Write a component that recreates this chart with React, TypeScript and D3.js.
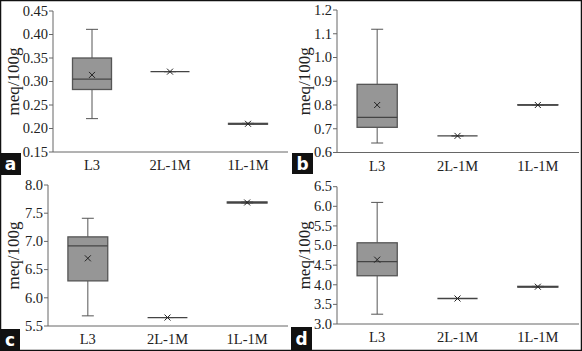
import React from "react";
import * as d3 from "d3";

const categories = ["L3", "2L-1M", "1L-1M"];
// each row: [min, q1, median, q3, max, mean]
const boxesA = [
  [0.221, 0.283, 0.305, 0.35, 0.411, 0.314],
  [0.321, 0.321, 0.321, 0.321, 0.321, 0.321],
  [0.209, 0.209, 0.21, 0.211, 0.211, 0.21],
];
const boxesB = [
  [0.64, 0.706, 0.748, 0.887, 1.119, 0.8],
  [0.67, 0.67, 0.67, 0.67, 0.67, 0.67],
  [0.8, 0.8, 0.8, 0.801, 0.801, 0.8],
];
const boxesC = [
  [5.68, 6.3, 6.92, 7.08, 7.41, 6.7],
  [5.65, 5.65, 5.65, 5.65, 5.65, 5.65],
  [7.68, 7.68, 7.69, 7.7, 7.7, 7.69],
];
const boxesD = [
  [3.25, 4.23, 4.59, 5.07, 6.1, 4.64],
  [3.65, 3.65, 3.65, 3.65, 3.65, 3.65],
  [3.94, 3.94, 3.95, 3.96, 3.96, 3.95],
];
const ticksA = [0.15, 0.2, 0.25, 0.3, 0.35, 0.4, 0.45];
const ticksB = [0.6, 0.7, 0.8, 0.9, 1.0, 1.1, 1.2];
const ticksC = [5.5, 6.0, 6.5, 7.0, 7.5, 8.0];
const ticksD = [3.0, 3.5, 4.0, 4.5, 5.0, 5.5, 6.0, 6.5];
const yLabel = "meq/100g";

const panels = [
  { letter: "a", ox: 0, oy: 0, left: 53, right: 287, top: 11, bottom: 152, boxes: boxesA, ticks: ticksA, fmt: ".2f", lb: [0, 153, 21, 22] },
  { letter: "b", ox: 291, oy: 0, left: 46, right: 287, top: 10, bottom: 152.5, boxes: boxesB, ticks: ticksB, fmt: ".1f", lb: [1, 153, 21, 21] },
  { letter: "c", ox: 0, oy: 175, left: 48, right: 287, top: 10, bottom: 151, boxes: boxesC, ticks: ticksC, fmt: ".1f", lb: [0, 154, 20, 22] },
  { letter: "d", ox: 291, oy: 175, left: 46, right: 287, top: 11.7, bottom: 149, boxes: boxesD, ticks: ticksD, fmt: ".1f", lb: [0, 152, 21, 23] },
];

const serif = "'Liberation Serif', 'Times New Roman', serif";

function Panel({ p }: { p: any }) {
  const y = d3
    .scaleLinear()
    .domain([p.ticks[0], p.ticks[p.ticks.length - 1]])
    .range([p.bottom, p.top]);
  const x = d3.scaleBand().domain(categories).range([p.left, p.right]);
  const f = d3.format(p.fmt);
  const bw = x.bandwidth() / 2;
  const cap = 12;
  return (
    <g transform={`translate(${p.ox},${p.oy})`}>
      <line x1={p.left} x2={p.left} y1={p.top} y2={p.bottom} stroke="#666" strokeWidth={1} />
      <line x1={p.left} x2={p.right + 1} y1={p.bottom} y2={p.bottom} stroke="#666" strokeWidth={1} />
      {p.ticks.map((t: number) => (
        <g key={t}>
          <line x1={p.left - 4} x2={p.left} y1={y(t)} y2={y(t)} stroke="#666" />
          <text x={p.left - 5} y={y(t)} dy="0.33em" textAnchor="end" fontFamily={serif} fontSize={14.5} fill="#222">
            {f(t)}
          </text>
        </g>
      ))}
      <text
        transform={`translate(${19},${(p.top + p.bottom) / 2}) rotate(-90)`}
        textAnchor="middle"
        fontFamily={serif}
        fontSize={17}
        fill="#222"
      >
        {yLabel}
      </text>
      {categories.map((c, i) => {
        const [mn, q1, md, q3, mx, mean] = p.boxes[i];
        const cx = x(c)! + x.bandwidth() / 2;
        return (
          <g key={c}>
            <line x1={cx} x2={cx} y1={y(mx)} y2={y(q3)} stroke="#555" />
            <line x1={cx} x2={cx} y1={y(q1)} y2={y(mn)} stroke="#555" />
            <line x1={cx - cap / 2} x2={cx + cap / 2} y1={y(mx)} y2={y(mx)} stroke="#555" />
            <line x1={cx - cap / 2} x2={cx + cap / 2} y1={y(mn)} y2={y(mn)} stroke="#555" />
            <rect x={cx - bw / 2} width={bw} y={y(q3)} height={Math.max(0, y(q1) - y(q3))} fill="#969696" stroke="#555" strokeWidth={1.3} />
            <line x1={cx - bw / 2} x2={cx + bw / 2} y1={y(md)} y2={y(md)} stroke="#444" strokeWidth={1.3} />
            <path
              d={`M${cx - 3},${y(mean) - 3}L${cx + 3},${y(mean) + 3}M${cx - 3},${y(mean) + 3}L${cx + 3},${y(mean) - 3}`}
              stroke="#222"
              strokeWidth={1}
            />
            <text x={cx} y={p.bottom + 18} textAnchor="middle" fontFamily={serif} fontSize={14.5} fill="#222">
              {c}
            </text>
          </g>
        );
      })}
      <rect x={p.lb[0]} y={p.lb[1]} width={p.lb[2]} height={p.lb[3]} fill="#111" />
      <text
        x={p.lb[0] + p.lb[2] / 2}
        y={p.lb[1] + p.lb[3] / 2}
        dy="0.36em"
        textAnchor="middle"
        fontFamily="'DejaVu Sans', sans-serif"
        fontWeight="bold"
        fontSize={17}
        fill="#fff"
      >
        {p.letter}
      </text>
    </g>
  );
}

export default function App() {
  return (
    <svg
      width={582}
      height={351}
      style={{ position: "absolute", left: 0, top: 0, background: "#fff" }}
    >
      <rect x={0} y={0} width={582} height={351} fill="#fff" />
      {panels.map((p) => (
        <Panel key={p.letter} p={p} />
      ))}
      <rect x={0.5} y={0.5} width={581} height={350} fill="none" stroke="#111" strokeWidth={1.5} />
    </svg>
  );
}
